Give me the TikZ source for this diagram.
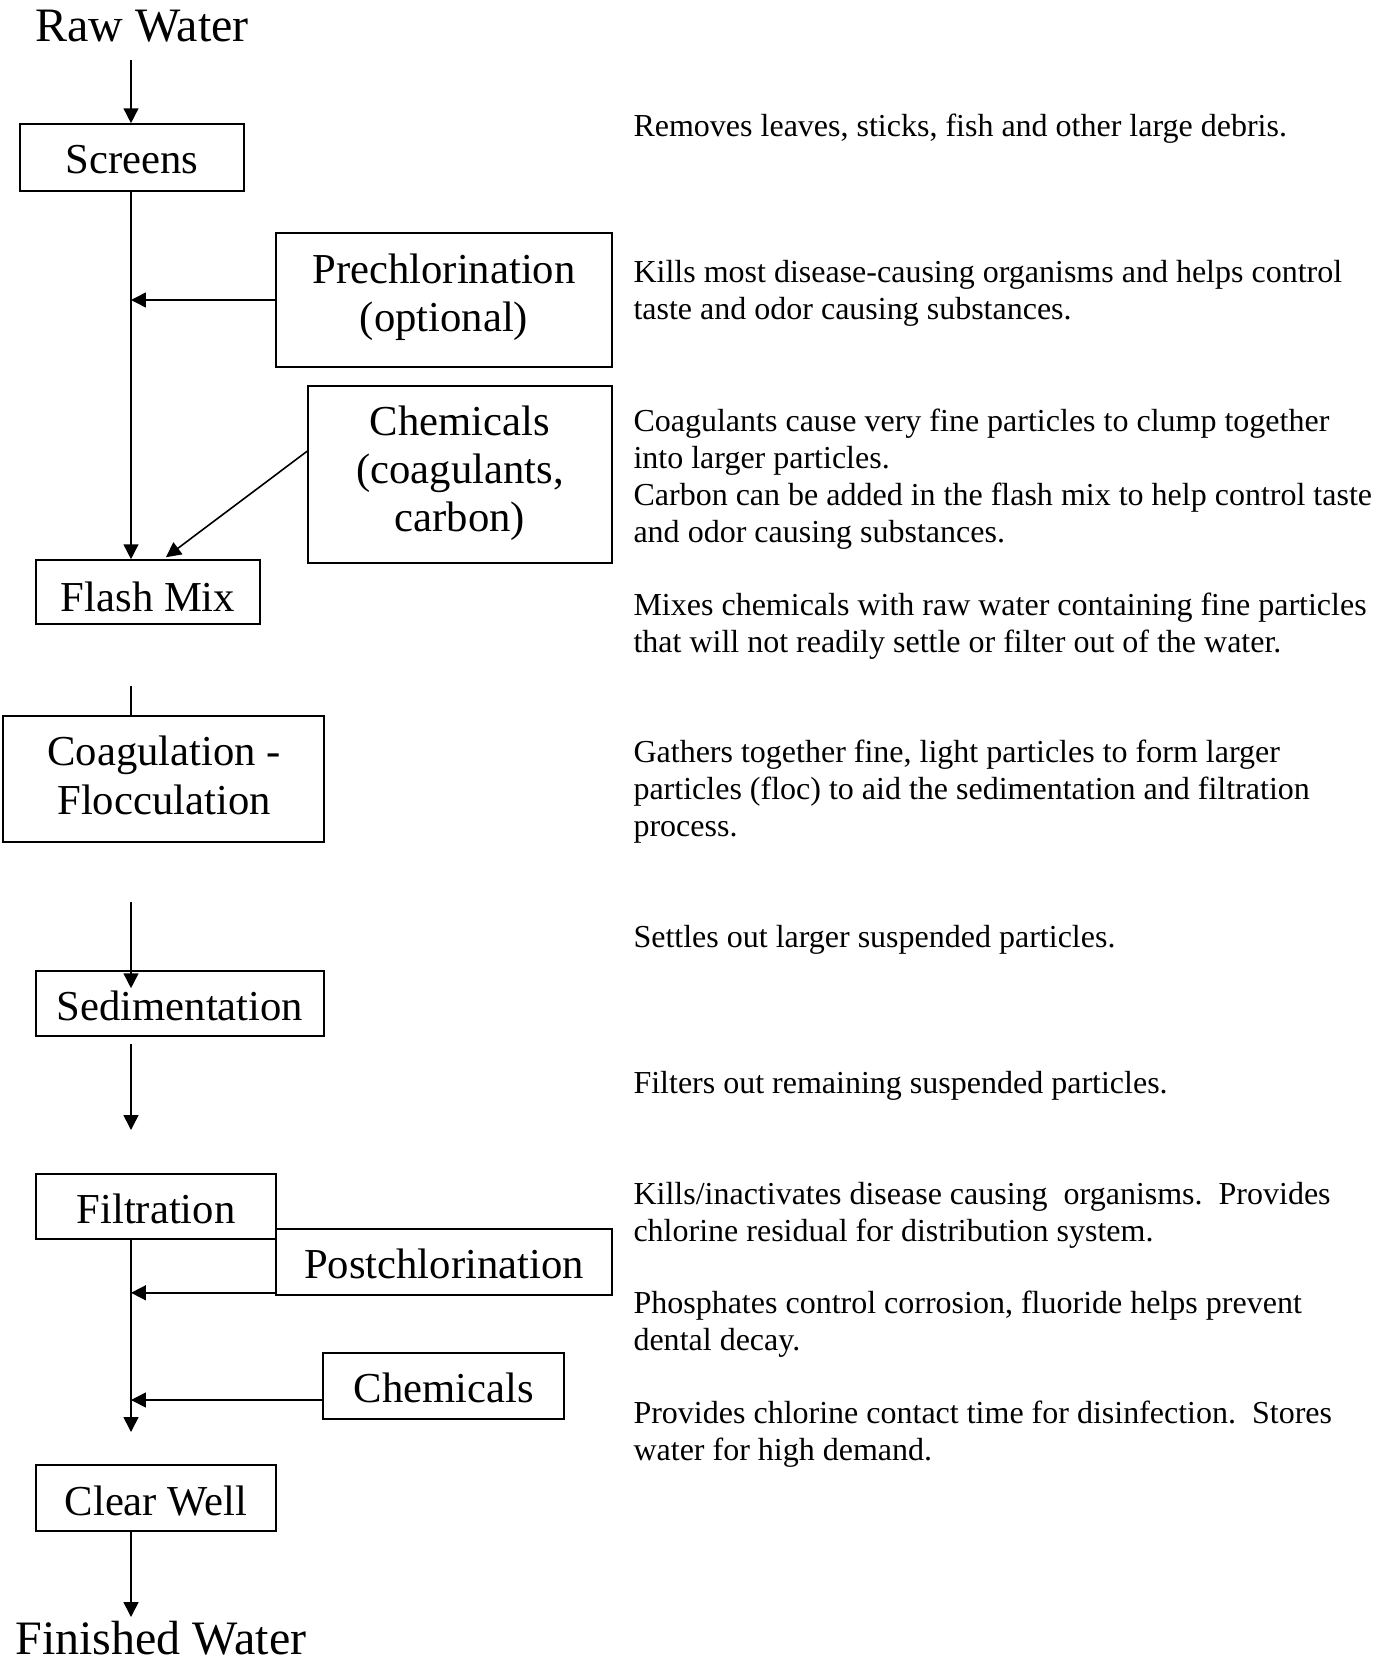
\documentclass[tikz,border=0pt]{standalone}
\usepackage{fontspec}
\setmainfont{Liberation Serif}
\usetikzlibrary{arrows.meta,calc,fit}
\begin{document}
\begin{tikzpicture}[x=0.375pt,y=-0.375pt,
  box/.style={draw,line width=0.6pt,inner sep=0pt,fit={#1}},
  arr/.style={line width=0.6pt,-{Triangle[length=5.6pt,width=5.6pt]}},
  ln/.style={line width=0.6pt},
  btext/.style={anchor=base,inner sep=0pt,font=\fontsize{16}{18}\selectfont},
  big/.style={anchor=base west,inner sep=0pt,font=\fontsize{18}{21}\selectfont},
  desc/.style={anchor=base west,inner sep=0pt,font=\fontsize{12}{14}\selectfont}]
\useasboundingbox (0,0) rectangle (1390,1662);
% titles
\node[big] (raw) at (35,42) {Raw Water};
\node[big] (fin) at (15,1654) {Finished Water};
% boxes
\node[box={(20,124) (244,191)}] (screens) {};
\node[box={(276,233) (612,367)}] (pre) {};
\node[box={(308,386) (612,563)}] (chem) {};
\node[box={(36,560) (260,624)}] (flash) {};
\node[box={(3,716) (324,842)}] (coag) {};
\node[box={(36,971) (324,1036)}] (sed) {};
\node[box={(36,1174) (276,1239)}] (filt) {};
\node[box={(276,1229) (612,1295)}] (post) {};
\node[box={(323,1353) (564,1419)}] (chemb) {};
\node[box={(36,1465) (276,1531)}] (clear) {};
% box texts
\node[btext] (tscreens) at (132,174) {Screens};
\node[btext] (tpre1) at (444,284) {Prechlorination};
\node[btext] (tpre2) at (444,332) {(optional)};
\node[btext] (tchem1) at (460,435) {Chemicals};
\node[btext] (tchem2) at (460,483) {(coagulants,};
\node[btext] (tchem3) at (460,531) {carbon)};
\node[btext] (tflash) at (148,611) {Flash Mix};
\node[btext] (tcoag1) at (164,765) {Coagulation -};
\node[btext] (tcoag2) at (164,814) {Flocculation};
\node[btext] (tsed) at (180,1020) {Sedimentation};
\node[btext] (tfilt) at (156,1223) {Filtration};
\node[btext] (tpost) at (444,1278) {Postchlorination};
\node[btext] (tchemb) at (444,1402) {Chemicals};
\node[btext] (tclear) at (156,1515) {Clear Well};
% connectors
\coordinate (rawout) at (131,60);
\draw[arr] (rawout) -- (rawout |- screens.north);
\draw[arr] (screens.south -| rawout) -- (flash.north -| rawout);
\draw[arr] (pre.west) -- (pre.west -| rawout);
\coordinate (chemout) at ($(chem.north west)+(0,66)$);
\coordinate (flashin) at ($(flash.north)+(18,-2)$);
\draw[arr] (chemout) -- (flashin);
\coordinate (c1) at (131,686);
\draw[ln] (c1) -- (c1 |- coag.north);
\coordinate (c2) at (131,902);
\coordinate (c2e) at ($(c2 |- sed.north)+(0,18)$);
\draw[arr] (c2) -- (c2e);
\coordinate (c3) at (131,1044);
\coordinate (c4) at (131,1130);
\draw[arr] (c3) -- (c4);
\coordinate (c5) at (131,1432);
\draw[arr] (filt.south -| rawout) -- (c5);
\coordinate (postin) at ($(post.south west)+(0,-3)$);
\draw[arr] (postin) -- (postin -| rawout);
\coordinate (chembin) at ($(chemb.west)+(0,14)$);
\draw[arr] (chembin) -- (chembin -| rawout);
\coordinate (c6) at (131,1617);
\draw[arr] (clear.south -| rawout) -- (c6);
% descriptions
\node[desc] (d1) at (633,137) {Removes leaves, sticks, fish and other large debris.};
\node[desc] (d2a) at (633,283) {Kills most disease-causing organisms and helps control};
\node[desc] (d2b) at (633,320) {taste and odor causing substances.};
\node[desc] (d3a) at (633,431) {Coagulants cause very fine particles to clump together};
\node[desc] (d3b) at (633,468) {into larger particles.};
\node[desc] (d3c) at (633,505) {Carbon can be added in the flash mix to help control taste};
\node[desc] (d3d) at (633,542) {and odor causing substances.};
\node[desc] (d4a) at (633,615) {Mixes chemicals with raw water containing fine particles};
\node[desc] (d4b) at (633,652) {that will not readily settle or filter out of the water.};
\node[desc] (d5a) at (633,762) {Gathers together fine, light particles to form larger};
\node[desc] (d5b) at (633,799) {particles (floc) to aid the sedimentation and filtration};
\node[desc] (d5c) at (633,836) {process.};
\node[desc] (d6) at (633,947) {Settles out larger suspended particles.};
\node[desc] (d7) at (633,1093) {Filters out remaining suspended particles.};
\node[desc] (d8a) at (633,1204) {Kills/inactivates disease causing\ \ organisms.\ \ Provides};
\node[desc] (d8b) at (633,1241) {chlorine residual for distribution system.};
\node[desc] (d9a) at (633,1313) {Phosphates control corrosion, fluoride helps prevent};
\node[desc] (d9b) at (633,1350) {dental decay.};
\node[desc] (d10a) at (633,1423) {Provides chlorine contact time for disinfection.\ \ Stores};
\node[desc] (d10b) at (633,1460) {water for high demand.};
\end{tikzpicture}
\end{document}
